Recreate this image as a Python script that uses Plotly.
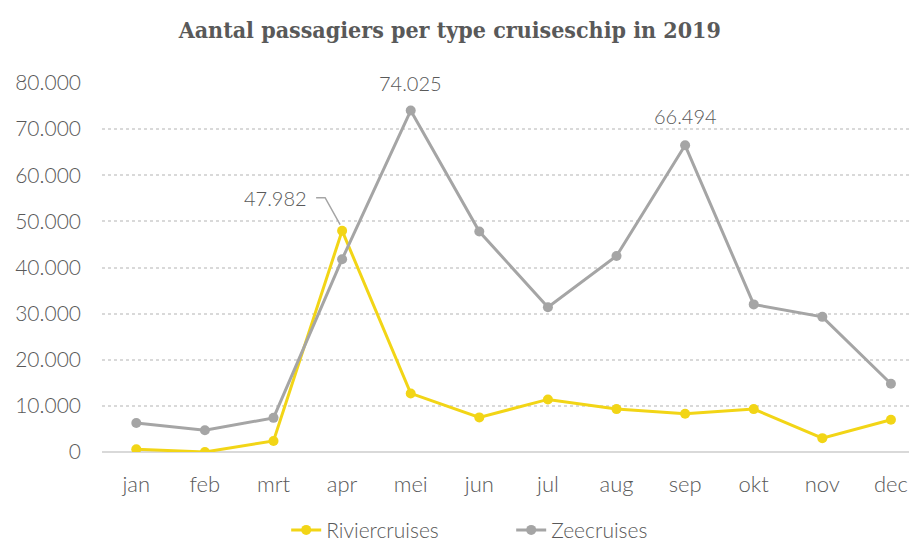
import plotly.graph_objects as go

months = ["jan", "feb", "mrt", "apr", "mei", "jun", "jul", "aug", "sep", "okt", "nov", "dec"]
rivier = [600, 0, 2400, 47982, 12700, 7500, 11400, 9300, 8300, 9300, 3000, 7000]
zee = [6300, 4700, 7400, 41800, 74025, 47800, 31400, 42500, 66494, 32000, 29300, 14800]
y_ticks = [0, 10000, 20000, 30000, 40000, 50000, 60000, 70000, 80000]

YELLOW = "#F2D516"
GREY = "#A5A5A5"
TXT = "#595959"
LIGHT = "Lato"

def fmt(v):
    return f"{v:,}".replace(",", ".")

fig = go.Figure()
fig.add_trace(go.Scatter(x=months, y=rivier, name="Riviercruises", mode="lines+markers",
                         line=dict(color=YELLOW, width=3), marker=dict(size=10, color=YELLOW)))
fig.add_trace(go.Scatter(x=months, y=zee, name="Zeecruises", mode="lines+markers",
                         line=dict(color=GREY, width=3), marker=dict(size=10, color=GREY)))

lab_font = dict(family=LIGHT, size=20, color=TXT, weight=300)
# data labels
fig.add_annotation(x=months[4], y=zee[4], text=fmt(zee[4]), showarrow=False, yshift=28,
                   font=lab_font)
fig.add_annotation(x=months[8], y=zee[8], text=fmt(zee[8]), showarrow=False, yshift=29,
                   font=lab_font)
fig.add_annotation(x=months[3], y=rivier[3], text=fmt(rivier[3]), showarrow=False,
                   xanchor="right", yanchor="middle", xshift=-33, yshift=33, font=lab_font)
# leader line (elbow) anchored to the April Riviercruises point
fig.add_shape(type="path", xref="x", yref="y", xsizemode="pixel", ysizemode="pixel",
              xanchor=months[3], yanchor=rivier[3], path="M-26,33 L-17,33 L-2,6",
              line=dict(color=GREY, width=1.5))

fig.update_layout(
    width=909, height=536,
    paper_bgcolor="white", plot_bgcolor="white",
    separators=",.",
    margin=dict(l=94, r=0, t=75, b=92, autoexpand=False),
    title=dict(text="<b>Aantal passagiers per type cruiseschip in 2019</b>", x=0.486, xanchor="center",
               y=0.959, yanchor="middle",
               font=dict(family="DejaVu Serif Condensed, DejaVu Serif", size=23, color=TXT)),
    showlegend=True,
    legend=dict(orientation="h", x=0.226, xanchor="left", y=-0.212, yanchor="middle",
                font=dict(family=LIGHT, size=21, color=TXT, weight=300),
                entrywidth=180, entrywidthmode="pixels"),
    xaxis=dict(range=[-0.5, 11.38], showgrid=False, showline=False, zeroline=False,
               automargin=False,
               tickfont=dict(family=LIGHT, size=22, color=TXT, weight=300),
               ticks="", ticklabelstandoff=17),
    yaxis=dict(range=[0, 80000], tickvals=y_ticks, tickformat=",d", showgrid=True,
               automargin=False,
               gridcolor="#D9D9D9", griddash="dot", gridwidth=1.5,
               zeroline=True, zerolinecolor="#D9D9D9", zerolinewidth=2,
               showline=False, ticks="", ticklabelstandoff=20,
               tickfont=dict(family=LIGHT, size=21, color=TXT, weight=300)),
)

fig.write_html("out.html")
